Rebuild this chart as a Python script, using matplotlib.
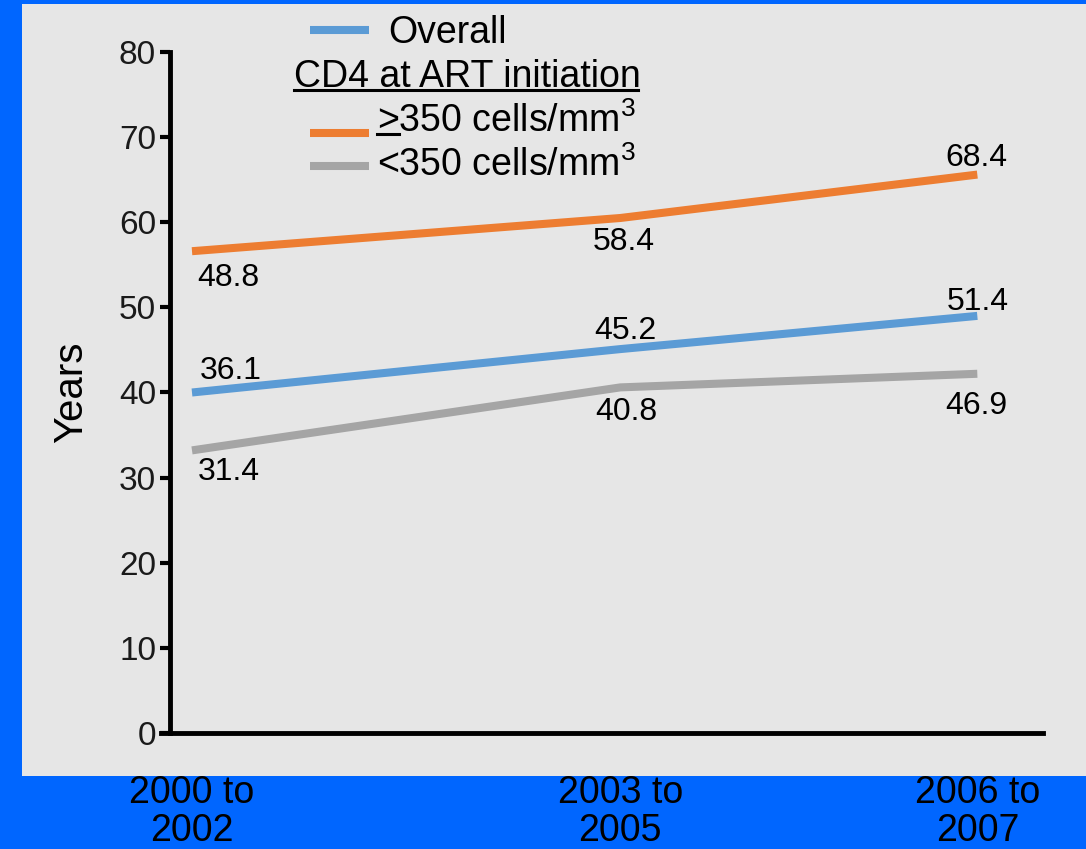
import matplotlib.pyplot as plt
from matplotlib.patches import Rectangle
from matplotlib.lines import Line2D

plt.rcParams['font.family'] = ['Liberation Sans', 'DejaVu Sans']
plt.rcParams['mathtext.fontset'] = 'custom'
plt.rcParams['mathtext.rm'] = 'Liberation Sans'
plt.rcParams['mathtext.it'] = 'Liberation Sans'

# period midpoints (x), plotted levels as drawn, and the printed labels
periods = [2001, 2004, 2006.5]
period_labels = ["2000 to\n2002", "2003 to\n2005", "2006 to\n2007"]

overall = [40.0, 45.1, 49.0]
cd4_high = [56.6, 60.5, 65.6]
cd4_low = [33.2, 40.6, 42.2]

overall_lbl = ["36.1", "45.2", "51.4"]
high_lbl = ["48.8", "58.4", "68.4"]
low_lbl = ["31.4", "40.8", "46.9"]

BLUE = "#5B9BD5"
ORANGE = "#ED7D31"
GRAY = "#A5A5A5"

W, H = 1086, 849
fig = plt.figure(figsize=(W / 100, H / 100), dpi=100, facecolor="#0066FF")
fig.patches.append(Rectangle((22 / W, (H - 776) / H), 1 - 22 / W, (776 - 4) / H,
                             transform=fig.transFigure, facecolor="#E6E6E6",
                             edgecolor="none", zorder=-10))

ax = fig.add_axes([170 / W, (H - 733) / H, (1043 - 170) / W, (733 - 52) / H])
ax.set_facecolor("none")
ax.set_zorder(5)
ax.set_xlim(2000.846, 2006.96)
ax.set_ylim(0, 80)

lw = 5.8
ax.plot(periods, cd4_high, color=ORANGE, lw=lw, solid_capstyle="butt", solid_joinstyle="miter")
ax.plot(periods, overall, color=BLUE, lw=lw, solid_capstyle="butt", solid_joinstyle="miter")
ax.plot(periods, cd4_low, color=GRAY, lw=lw, solid_capstyle="butt", solid_joinstyle="miter")

for sp in ["top", "right"]:
    ax.spines[sp].set_visible(False)
for sp in ["left", "bottom"]:
    ax.spines[sp].set_linewidth(3.5)
    ax.spines[sp].set_color("black")
ax.spines["bottom"].set_bounds(2000.78, 2006.96)

ax.set_yticks(range(0, 81, 10))
ax.tick_params(axis="y", length=7, width=3, pad=3, labelsize=24, labelcolor="#1a1a1a")
ax.set_xticks(periods)
ax.set_xticklabels(period_labels, fontsize=27, linespacing=1.1)
ax.tick_params(axis="x", length=0, pad=30)
ax.set_ylabel("Years", fontsize=29, labelpad=21)

fs = 23
# value labels: (text, x, y, pixel offset dx, dy, alignment)
value_labels = [
    (high_lbl[0], periods[0], cd4_high[0], 5, -27, "left"),
    (high_lbl[1], periods[1], cd4_high[1], 3, -24, "center"),
    (high_lbl[2], periods[2], cd4_high[2], -1, 17, "center"),
    (overall_lbl[0], periods[0], overall[0], 8, 21, "left"),
    (overall_lbl[1], periods[1], overall[1], 5, 18, "center"),
    (overall_lbl[2], periods[2], overall[2], 0, 14, "center"),
    (low_lbl[0], periods[0], cd4_low[0], 6, -22, "left"),
    (low_lbl[1], periods[1], cd4_low[1], 6, -25, "center"),
    (low_lbl[2], periods[2], cd4_low[2], -1, -32, "center"),
]
for txt, x, y, dx, dy, ha in value_labels:
    ax.annotate(txt, (x, y), xytext=(dx, dy), textcoords="offset pixels",
                ha=ha, va="center", fontsize=fs)

# manual legend (figure pixel coords)
def fx(px):
    return px / W

def fy(py):
    return (H - py) / H

lf = 27
for y, c in [(30, BLUE), (133, ORANGE), (166, GRAY)]:
    fig.add_artist(Line2D([fx(310), fx(369)], [fy(y), fy(y)], color=c, lw=lw,
                          solid_capstyle="butt", transform=fig.transFigure))
fig.text(fx(388), fy(33), "Overall", fontsize=lf, va="center", ha="left")
fig.text(fx(294), fy(77), "CD4 at ART initiation", fontsize=lf, va="center", ha="left")
fig.add_artist(Line2D([fx(294), fx(638)], [fy(90), fy(90)], color="black", lw=2.2,
                      transform=fig.transFigure))
fig.text(fx(377), fy(121), ">350 cells/mm$^3$", fontsize=lf, va="center", ha="left")
fig.add_artist(Line2D([fx(377), fx(399)], [fy(134), fy(134)], color="black", lw=2.2,
                      transform=fig.transFigure))
fig.text(fx(377), fy(165), "<350 cells/mm$^3$", fontsize=lf, va="center", ha="left")

fig.savefig("out.png", dpi=100, facecolor=fig.get_facecolor())
